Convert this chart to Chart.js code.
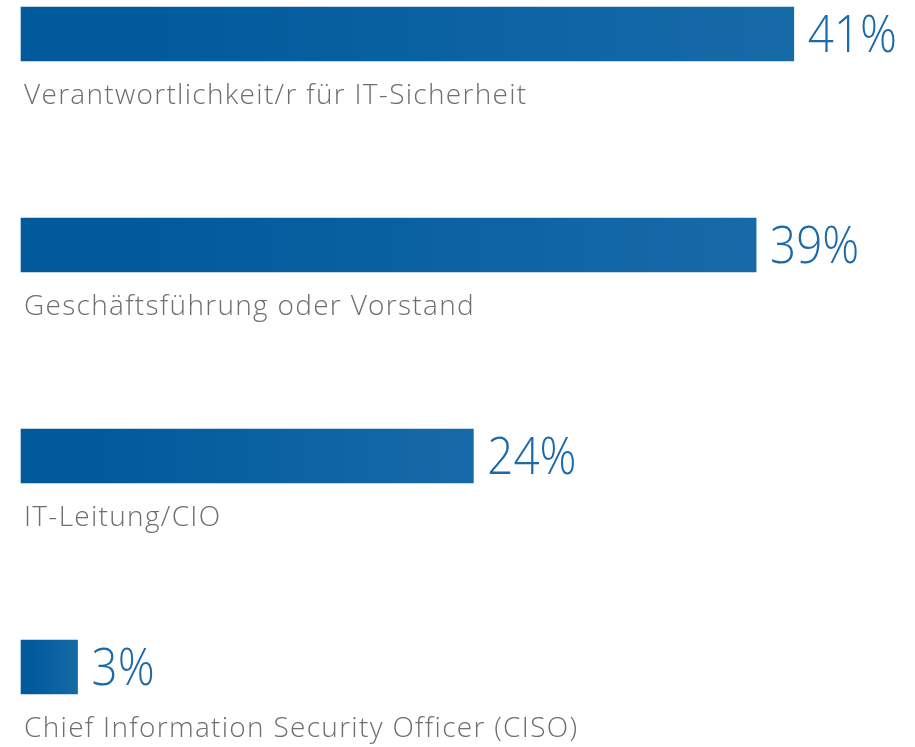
<!DOCTYPE html>
<html lang="de">
<head>
<meta charset="utf-8">
<title>Verantwortlichkeit für IT-Sicherheit</title>
<script src="https://cdn.jsdelivr.net/npm/chart.js@4/dist/chart.umd.min.js"></script>
<style>
  html, body { margin: 0; padding: 0; background: #ffffff; }
  #wrap { position: relative; width: 915px; height: 747px; }
</style>
</head>
<body>
<div id="wrap"><canvas id="respChart"></canvas></div>
<script>
// --- data ---
const categories = [
    'Verantwortlichkeit/r für IT-Sicherheit',
    'Geschäftsführung oder Vorstand',
    'IT-Leitung/CIO',
    'Chief Information Security Officer (CISO)'
];
const shares = [41, 39, 24, 3];

const barDark = '#005a9c';
const barLight = '#176aa8';
const valueColor = '#1b69a9';
const labelColor = '#6e6e6e';

// gradient per bar, from its base to its tip
function barGradient(context) {
    const chart = context.chart;
    if (!chart.chartArea) return barDark;
    const x = chart.scales.x;
    const x0 = x.getPixelForValue(0);
    const x1 = x.getPixelForValue(context.raw);
    const g = chart.ctx.createLinearGradient(x0, 0, Math.max(x1, x0 + 1), 0);
    g.addColorStop(0, barDark);
    g.addColorStop(0.15, barDark);
    g.addColorStop(1, barLight);
    return g;
}

// --- labels under the bars and values to the right ---
const barTextPlugin = {
    id: 'barText',
    afterDatasetsDraw(chart) {
        const ctx = chart.ctx;
        const meta = chart.getDatasetMeta(0);
        meta.data.forEach((bar, i) => {
            const left = Math.min(bar.base, bar.x);
            const right = Math.max(bar.base, bar.x);

            // value, a bit narrower than Open Sans
            ctx.save();
            ctx.textAlign = 'left';
            ctx.textBaseline = 'alphabetic';
            ctx.fillStyle = valueColor;
            ctx.font = '300 52px "Open Sans"';
            ctx.translate(right + 14, bar.y + 18);
            ctx.scale(0.88, 1);
            ctx.fillText(shares[i] + '%', 0, 0);
            ctx.restore();

            // category
            ctx.save();
            ctx.textAlign = 'left';
            ctx.textBaseline = 'alphabetic';
            ctx.fillStyle = labelColor;
            ctx.font = '300 28px "Open Sans"';
            ctx.letterSpacing = '1.3px';
            ctx.fillText(categories[i], left + 3, bar.y + 70);
            ctx.restore();
        });
    }
};

const chartCtx = document.getElementById('respChart');
new Chart(chartCtx, {
    type: 'bar',
    data: {
        labels: categories,
        datasets: [{
            data: shares,
            backgroundColor: barGradient,
            borderWidth: 0,
            barThickness: 54,
            clip: false
        }]
    },
    options: {
        indexAxis: 'y',
        responsive: true,
        maintainAspectRatio: false,
        animation: false,
        layout: {
            padding: { left: 21, right: 0, top: 34, bottom: 80 }
        },
        scales: {
            x: { display: false, min: 0, max: 47.43 },
            y: { display: false, offset: false }
        },
        plugins: {
            legend: { display: false },
            tooltip: { enabled: false }
        }
    },
    plugins: [barTextPlugin]
});
</script>
</body>
</html>
